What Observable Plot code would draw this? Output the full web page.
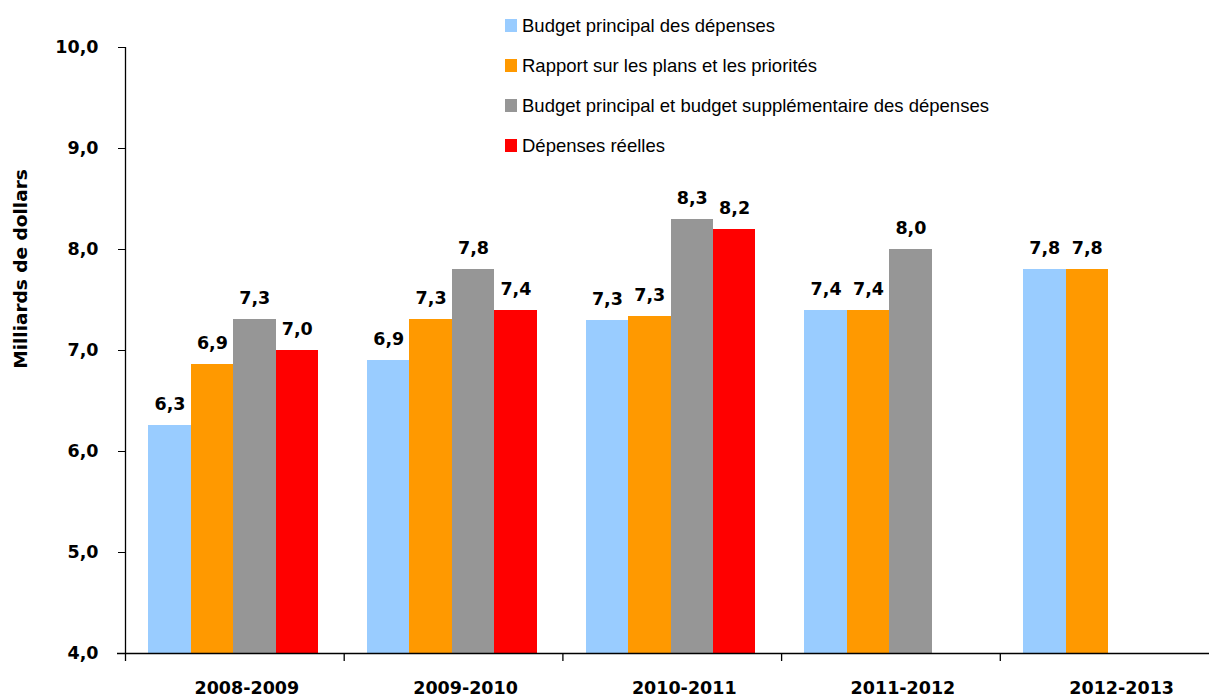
<!DOCTYPE html>
<html><head><meta charset="utf-8">
<script src="https://cdn.jsdelivr.net/npm/d3@7"></script>
<script src="https://cdn.jsdelivr.net/npm/@observablehq/plot@0.6"></script>
<style>
body{margin:0;background:#fff;}
#wrap{position:relative;width:1209px;height:699px;overflow:hidden;background:#fff;}
#legend{position:absolute;left:505px;top:5.5px;font-family:"Liberation Sans",Arial,sans-serif;font-size:18.5px;color:#000;}
.item{display:flex;align-items:center;height:40px;white-space:nowrap;}
.sw{width:12px;height:13px;margin-right:5px;flex:none;}
#ylabel{position:absolute;left:21px;top:269px;transform:translate(-50%,-50%) rotate(-90deg);font-family:"DejaVu Sans",sans-serif;font-weight:bold;font-size:18.5px;color:#000;white-space:nowrap;line-height:1;}
</style></head><body><div id="wrap"><div id="legend"></div><div id="ylabel"></div></div>
<script>
const years = ["2008-2009", "2009-2010", "2010-2011", "2011-2012", "2012-2013"];
const budgetPrincipal = [6.26, 6.9, 7.3, 7.4, 7.8];
const rapportPlans = [6.86, 7.31, 7.34, 7.4, 7.8];
const budgetSupplementaire = [7.31, 7.8, 8.3, 8.0, null];
const depensesReelles = [7.0, 7.4, 8.2, null, null];
const seriesNames = ["Budget principal des dépenses", "Rapport sur les plans et les priorités", "Budget principal et budget supplémentaire des dépenses", "Dépenses réelles"];
const seriesColors = ["#99CCFF", "#FF9900", "#969696", "#FF0000"];
const yTicks = [4, 5, 6, 7, 8, 9, 10];
const yLabel = "Milliards de dollars";

const W = 1209, H = 699, ML = 125, MT = 47, MB = 46;
const bandW = 218.7, barW = 42.4, groupOff = 23.3;
const fmt = v => v.toFixed(1).replace(".", ",");
const seriesData = [budgetPrincipal, rapportPlans, budgetSupplementaire, depensesReelles];
const rows = vals => years.map((y, i) => ({year: y, value: vals[i]})).filter(d => d.value != null);

const marks = [];
seriesData.forEach((vals, k) => {
  const data = rows(vals);
  const left = groupOff + k * barW;
  marks.push(Plot.barY(data, {x: "year", y1: 4, y2: "value", fill: seriesColors[k], insetLeft: left, insetRight: bandW - left - barW, shapeRendering: "crispEdges"}));
  marks.push(Plot.text(data, {x: "year", y: "value", text: d => fmt(d.value), dx: left + barW / 2 - bandW / 2, dy: -21, fill: "#000"}));
});

const chart = Plot.plot({
  width: W, height: H,
  marginLeft: ML, marginRight: 0, marginTop: MT, marginBottom: MB,
  style: {fontFamily: "DejaVu Sans", fontWeight: "bold", fontSize: "17.5px", color: "#000", background: "#fff", overflow: "hidden"},
  x: {domain: years, range: [ML, ML + 5 * bandW], padding: 0, round: false},
  y: {domain: [4, 10]},
  marks: [
    ...marks,
    Plot.axisY({ticks: yTicks, tickFormat: fmt, tickSize: 7, tickPadding: 20, label: null, stroke: "#000", fill: "#000"}),
    Plot.axisX({tickSize: 0, tickPadding: 28, dx: 12, label: null, fill: "#000"}),
    Plot.ruleY([4], {insetLeft: -8, stroke: "#000", strokeWidth: 1.3}),
    Plot.ruleX([years[0]], {dx: -bandW / 2, y1: 4, y2: 10, stroke: "#000", strokeWidth: 1.3}),
    Plot.ruleX(years, {dx: -bandW / 2, y1: 4, y2: 4, insetBottom: -8, stroke: "#000", strokeWidth: 1.3})
  ]
});
document.getElementById("wrap").insertBefore(chart, document.getElementById("legend"));
document.getElementById("ylabel").textContent = yLabel;

const legend = document.getElementById("legend");
seriesNames.forEach((name, k) => {
  const item = document.createElement("div");
  item.className = "item";
  const sw = document.createElement("span");
  sw.className = "sw";
  sw.style.background = seriesColors[k];
  const t = document.createElement("span");
  t.textContent = name;
  item.appendChild(sw);
  item.appendChild(t);
  legend.appendChild(item);
});
</script>
</body></html>
